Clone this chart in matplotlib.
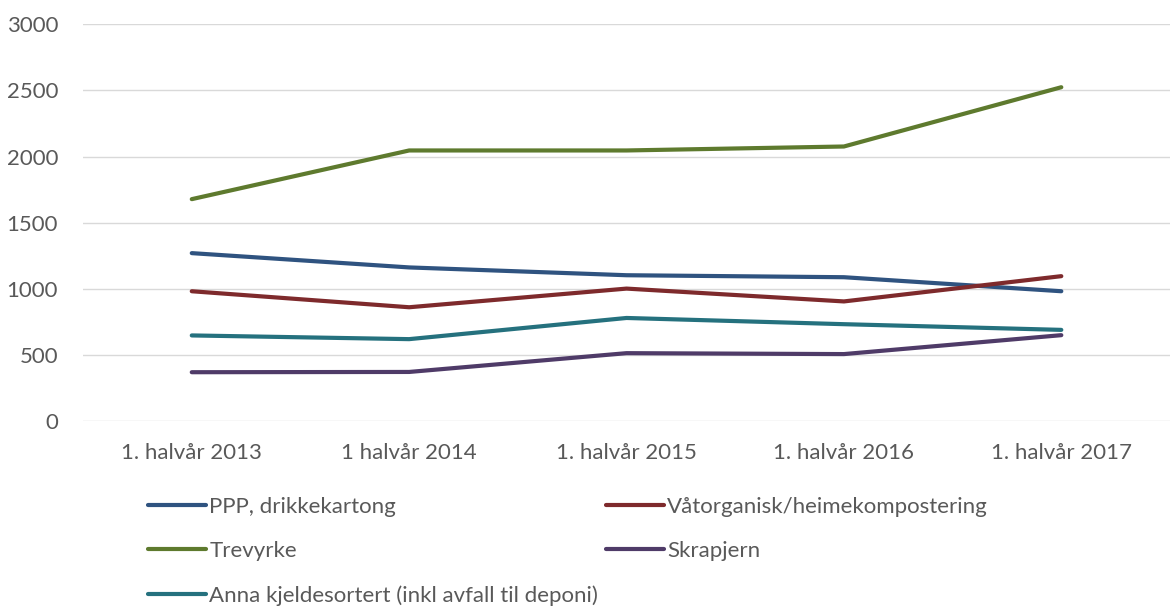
import numpy as np
import matplotlib.pyplot as plt

plt.rcParams['font.family'] = ['Lato', 'DejaVu Sans']
plt.rcParams['font.size'] = 16

# data
categories = ['1. halvår 2013', '1 halvår 2014', '1. halvår 2015', '1. halvår 2016', '1. halvår 2017']
ppp = [1270, 1162, 1103, 1088, 982]
vatorganisk = [982, 861, 1002, 905, 1096]
trevyrke = [1678, 2046, 2046, 2076, 2524]
skrapjern = [370, 372, 514, 507, 650]
anna = [648, 620, 780, 733, 690]

series = [
    ('PPP, drikkekartong', ppp, '#2F5380'),
    ('Våtorganisk/heimekompostering', vatorganisk, '#7E2A2C'),
    ('Trevyrke', trevyrke, '#5E7A2E'),
    ('Skrapjern', skrapjern, '#4F3B68'),
    ('Anna kjeldesortert (inkl avfall til deponi)', anna, '#25717E'),
]

fig = plt.figure(figsize=(11.7, 6.06), dpi=100)
ax = fig.add_axes([0.071, 0.305, 0.929, 0.655])

x = np.arange(len(categories))
handles = {}
for name, vals, col in series:
    h, = ax.plot(x, vals, color=col, lw=3, solid_capstyle='round', label=name)
    handles[name] = h

ax.set_xlim(-0.5, len(categories) - 0.5)
ax.set_ylim(0, 3000)
ax.set_yticks(np.arange(0, 3001, 500))
ax.set_xticks(x)
ax.set_xticklabels(categories)
ax.grid(axis='y', color='#D9D9D9', lw=1)
ax.set_axisbelow(True)
for s in ax.spines.values():
    s.set_visible(False)
ax.tick_params(axis='both', length=0, colors='#595959', labelsize=16)
ax.tick_params(axis='y', pad=18)
ax.tick_params(axis='x', pad=16)

# legend filled column-first, so reorder to read row by row
order = ['PPP, drikkekartong', 'Trevyrke', 'Anna kjeldesortert (inkl avfall til deponi)',
         'Våtorganisk/heimekompostering', 'Skrapjern']
leg = fig.legend([handles[n] for n in order], order, ncol=2, loc='upper left',
                 bbox_to_anchor=(0.119, 0.195), frameon=False, fontsize=16,
                 handlelength=2.6, handletextpad=0.15, columnspacing=0.35,
                 labelspacing=1.1, borderaxespad=0)
for t in leg.get_texts():
    t.set_color('#595959')

fig.savefig('out.png', dpi=100)
